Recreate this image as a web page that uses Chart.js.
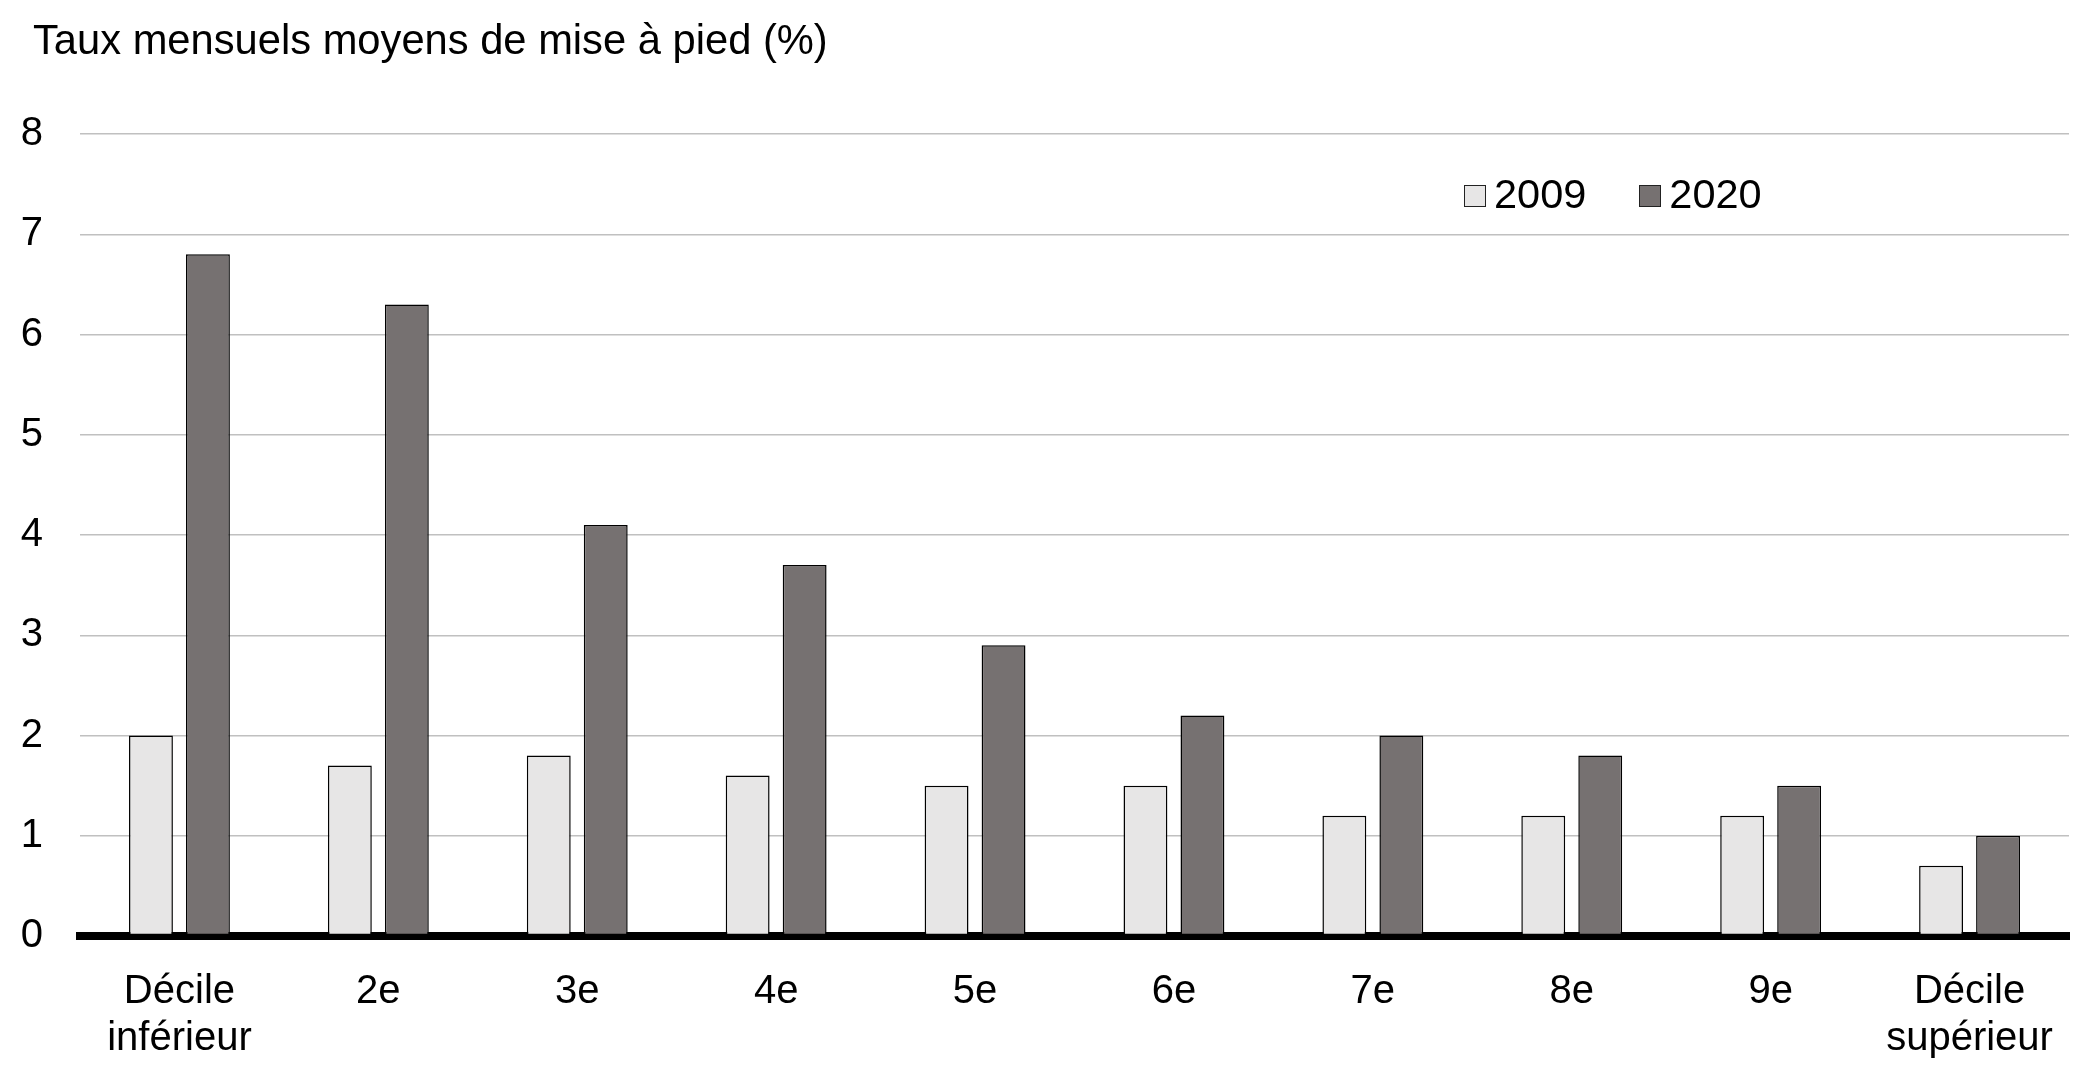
<!DOCTYPE html>
<html lang="fr">
<head>
    <meta charset="utf-8">
    <title>Taux mensuels moyens de mise à pied</title>
    <script src="https://cdn.jsdelivr.net/npm/chart.js"></script>
<style>
        body {
            margin: 0;
            background: #fff;
            font-family: "Liberation Sans", Arial, sans-serif;
            color: #000;
        }
        #wrap {
            position: relative;
            width: 2091px;
            height: 1079px;
        }
        #title {
            position: absolute;
            left: 33px;
            top: 19px;
            font-size: 41.7px;
            line-height: 41px;
            white-space: nowrap;
        }
        #legend {
            position: absolute;
            left: 1464px;
            top: 173px;
            display: flex;
            font-size: 41.5px;
            line-height: 41px;
        }
        #legend .item {
            display: flex;
            align-items: flex-start;
            margin-right: 53px;
        }
        #legend .box {
            width: 20px;
            height: 20px;
            margin-top: 12px;
            margin-right: 8px;
            border: 1.5px solid #222;
        }
    </style>
</head>
<body>
<div id="wrap">
    <canvas id="chart" width="2091" height="1079"></canvas>
    <div id="title">Taux mensuels moyens de mise à pied (%)</div>
    <div id="legend"></div>
</div>

<script>
    const categories = [
        ['Décile', 'inférieur'], '2e', '3e', '4e', '5e', '6e', '7e', '8e', '9e', ['Décile', 'supérieur']
    ];
    const seriesNames = ['2009', '2020'];
    const values2009 = [2.0, 1.7, 1.8, 1.6, 1.5, 1.5, 1.2, 1.2, 1.2, 0.7];
    const values2020 = [6.8, 6.3, 4.1, 3.7, 2.9, 2.2, 2.0, 1.8, 1.5, 1.0];
    const yTicks = [0, 1, 2, 3, 4, 5, 6, 7, 8];

    const fills = ['#e7e6e6', '#767171'];

    const datasets = [values2009, values2020].map(function (vals, i) {
        return {
            label: seriesNames[i],
            data: vals,
            backgroundColor: fills[i],
            borderColor: '#000',
            borderWidth: 1.5,
            borderSkipped: false,
            categoryPercentage: 0.573,
            barPercentage: 0.77
        };
    });

    // legend as plain text next to small boxes
    const legend = document.getElementById('legend');
    datasets.forEach(function (ds) {
        const item = document.createElement('div');
        item.className = 'item';
        const box = document.createElement('div');
        box.className = 'box';
        box.style.background = ds.backgroundColor;
        const txt = document.createElement('span');
        txt.textContent = ds.label;
        item.appendChild(box);
        item.appendChild(txt);
        legend.appendChild(item);
    });

    const font = { family: '"Liberation Sans", Arial, sans-serif', size: 40 };

    new Chart(document.getElementById('chart'), {
        type: 'bar',
        data: { labels: categories, datasets: datasets },
        options: {
            responsive: false,
            animation: false,
            devicePixelRatio: 1,
            layout: { padding: { top: 134, right: 22, bottom: 0, left: 0 } },
            plugins: {
                legend: { display: false },
                tooltip: { enabled: false }
            },
            scales: {
                x: {
                    z: 1,
                    grid: { display: false },
                    border: { display: true, color: '#000', width: 8 },
                    ticks: {
                        color: '#000',
                        font: Object.assign({ lineHeight: 1.175 }, font),
                        padding: 24,
                        maxRotation: 0,
                        autoSkip: false
                    },
                    afterFit: function (scale) { scale.height = 143; }
                },
                y: {
                    min: yTicks[0],
                    max: yTicks[yTicks.length - 1],
                    afterBuildTicks: function (scale) {
                        scale.ticks = yTicks.map(function (v) { return { value: v }; });
                    },
                    grid: { color: '#c0c0c0', lineWidth: 1.5, drawTicks: false },
                    border: { display: false },
                    ticks: {
                        color: '#000',
                        font: font,
                        padding: 37
                    },
                    afterFit: function (scale) { scale.width = 80; }
                }
            }
        }
    });
</script>
</body>
</html>
